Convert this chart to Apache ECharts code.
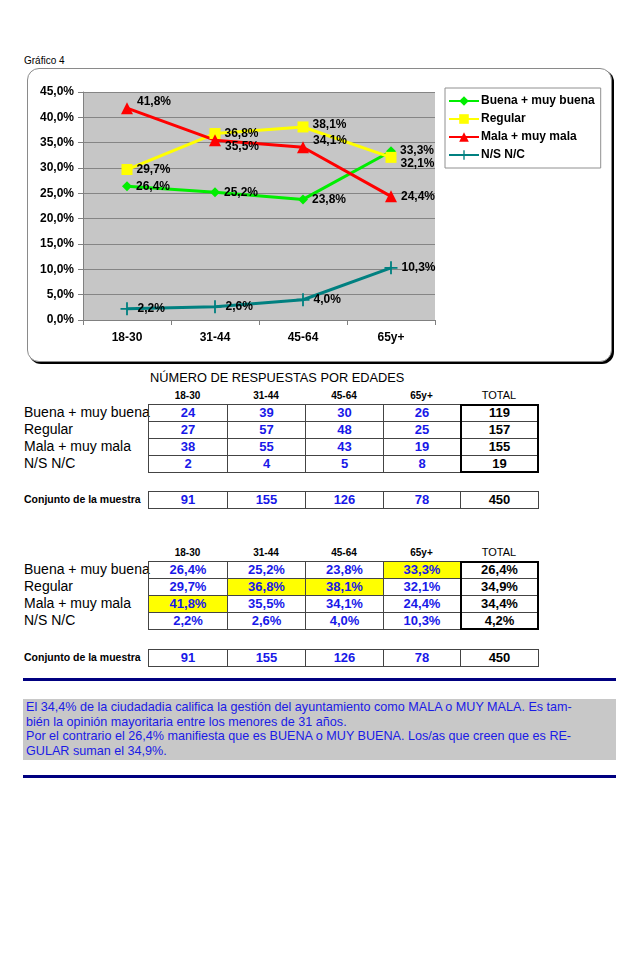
<!DOCTYPE html>
<html>
<head>
<meta charset="utf-8">
<script src="https://cdn.jsdelivr.net/npm/echarts@6/dist/echarts.min.js"></script>
<style>
  html, body { margin: 0; padding: 0; background: #fff; }
  body { width: 640px; height: 980px; position: relative; font-family: "Liberation Sans", Arial, sans-serif; overflow: hidden; }
  .abs { position: absolute; }
  .cell { position: absolute; box-sizing: border-box; border: 1px solid #444; text-align: center; font-weight: bold; font-size: 13px; color: #1818e8; line-height: 15px; }
  .rowlab { position: absolute; left: 24px; font-size: 14px; color: #000; white-space: nowrap; line-height: 17px; }
  .hdr { position: absolute; text-align: center; font-size: 10px; font-weight: bold; color: #000; }
</style>
</head>
<body>
<div class="abs" style="left:24px;top:55px;font-size:10px;color:#000;">Gráfico 4</div>
<div class="abs" style="left:27px;top:68px;width:583px;height:292px;border:1px solid #8a8a8a;border-radius:12px;box-shadow:2px 2px 0 #000;background:#fff;"></div>
<div id="chart" class="abs" style="left:0;top:0;width:640px;height:370px;"></div>
<div id="tables"></div>
<div class="abs" style="left:23px;top:678px;width:593px;height:3px;background:#000080;"></div>
<div class="abs" style="left:23px;top:699px;width:593px;height:61px;background:#c8c8c8;"></div>
<div class="abs" id="note" style="left:26px;top:700px;font-size:12.6px;line-height:14.7px;color:#1a1ae6;white-space:nowrap;"></div>
<div class="abs" style="left:23px;top:775px;width:593px;height:3px;background:#000080;"></div>
<script>
// ---- data ----
const categories = ['18-30', '31-44', '45-64', '65y+'];
const seriesNames = ['Buena + muy buena', 'Regular', 'Mala + muy mala', 'N/S N/C'];
const pctBuena = [26.4, 25.2, 23.8, 33.3];
const pctRegular = [29.7, 36.8, 38.1, 32.1];
const pctMala = [41.8, 35.5, 34.1, 24.4];
const pctNS = [2.2, 2.6, 4.0, 10.3];
const pctTotals = [26.4, 34.9, 34.4, 4.2];
const countBuena = [24, 39, 30, 26];
const countRegular = [27, 57, 48, 25];
const countMala = [38, 55, 43, 19];
const countNS = [2, 4, 5, 8];
const countTotals = [119, 157, 155, 19];
const sampleByAge = [91, 155, 126, 78];
const sampleTotal = 450;
const yTicks = [0, 5, 10, 15, 20, 25, 30, 35, 40, 45];
const tableTitle = 'NÚMERO DE RESPUESTAS POR EDADES';
const sampleLabel = 'Conjunto de la muestra';
const noteLines = [
  'El 34,4% de la ciudadadia califica la gestión del ayuntamiento como MALA o MUY MALA. Es tam-',
  'bién la opinión mayoritaria entre los menores de 31 años.',
  'Por el contrario el 26,4% manifiesta que es BUENA o MUY BUENA. Los/as que creen que es RE-',
  'GULAR suman el 34,9%.'
];

// ---- styles (kept apart from data) ----
const colors = ['#00ee00', '#ffff00', '#ff0000', '#008080'];
const plusPath = 'path://M4.3,0H5.7V4.3H10V5.7H5.7V10H4.3V5.7H0V4.3H4.3Z';
const symbols = ['diamond', 'rect', 'triangle', plusPath];
const symbolSizes = [10, 11, 12, 13];
const labelOffsets = [
  [[0, 0], [0, 0], [0, 0], [0, -1]],
  [[0, 0], [0, 0], [0, -2], [0, 6]],
  [[0, -7], [0, 7], [0, -7], [0, 0]],
  [[0, 0], [0, 0], [0, 0], [0, 0]]
];
const fmt1 = v => v.toFixed(1).replace('.', ',');
const pctSeries = [pctBuena, pctRegular, pctMala, pctNS];

const chart = echarts.init(document.getElementById('chart'), null, { renderer: 'canvas' });
chart.setOption({
  animation: false,
  textStyle: { fontFamily: 'Liberation Sans, Arial, sans-serif' },
  grid: { left: 83, top: 92, width: 352, height: 228, show: true, backgroundColor: '#c6c6c6', borderWidth: 0 },
  legend: {
    orient: 'vertical', left: 445, top: 88, padding: [6, 6, 6, 3], itemGap: 4,
    itemWidth: 30, itemHeight: 12, borderColor: '#909090', borderWidth: 1, backgroundColor: '#fff',
    textStyle: { fontWeight: 'bold', fontSize: 12, color: '#000', lineHeight: 14, padding: [0, 0, 0, -3] },
    data: seriesNames
  },
  xAxis: {
    type: 'category', data: categories, boundaryGap: true,
    axisLine: { lineStyle: { color: '#808080', width: 1 } },
    axisTick: { show: true, length: 5, lineStyle: { color: '#808080' } },
    axisLabel: { fontWeight: 'bold', fontSize: 12, color: '#000', margin: 12 }
  },
  yAxis: {
    type: 'value', min: 0, max: 45, interval: 5,
    axisLine: { show: true, lineStyle: { color: '#808080', width: 1 } },
    axisTick: { show: true, length: 5, lineStyle: { color: '#808080' } },
    splitLine: { lineStyle: { color: '#858585', width: 1 } },
    axisLabel: { fontWeight: 'bold', fontSize: 12, color: '#000', margin: 9, formatter: v => fmt1(v) + '%' }
  },
  series: pctSeries.map((arr, i) => ({
    name: seriesNames[i], type: 'line', color: colors[i],
    symbol: symbols[i], symbolSize: symbolSizes[i], showAllSymbol: true,
    lineStyle: { width: 3, color: colors[i] },
    itemStyle: { color: colors[i] },
    data: arr.map((v, j) => ({ value: v, label: { offset: labelOffsets[i][j] } })),
    label: { show: true, position: 'right', distance: 4, fontWeight: 'bold', fontSize: 12, color: '#000', formatter: p => fmt1(p.value) + '%' },
    z: i === 3 ? 3 : 2
  }))
});

// ---- tables ----
const colEdges = [148, 227, 305, 383, 460, 538];
const rowH = 17;
const host = document.getElementById('tables');
function add(html) { host.insertAdjacentHTML('beforeend', html); }
function cellDiv(x0, x1, y, content, extra) {
  add('<div class="cell" style="left:' + x0 + 'px;top:' + y + 'px;width:' + (x1 - x0 + 1) + 'px;height:' + (rowH + 1) + 'px;' + (extra || '') + '">' + content + '</div>');
}
function buildTable(headerY, top, rows, totals, cellFmt, highlight, sampleTop) {
  categories.forEach((c, j) => {
    add('<div class="hdr" style="left:' + colEdges[j] + 'px;width:' + (colEdges[j + 1] - colEdges[j]) + 'px;top:' + headerY + 'px;">' + c + '</div>');
  });
  add('<div class="hdr" style="left:' + colEdges[4] + 'px;width:' + (colEdges[5] - colEdges[4]) + 'px;top:' + (headerY - 1) + 'px;font-weight:normal;font-size:11px;">TOTAL</div>');
  rows.forEach((row, r) => {
    const y = top + r * rowH;
    add('<div class="rowlab" style="top:' + y + 'px;">' + seriesNames[r] + '</div>');
    row.forEach((v, j) => {
      const hl = highlight && highlight[j] === r;
      cellDiv(colEdges[j], colEdges[j + 1], y, cellFmt(v), hl ? 'background:#ffff00;' : '');
    });
    cellDiv(colEdges[4], colEdges[5], y, cellFmt(totals[r]), 'color:#000;');
  });
  add('<div class="abs" style="box-sizing:border-box;left:' + colEdges[4] + 'px;top:' + top + 'px;width:' + (colEdges[5] - colEdges[4] + 1) + 'px;height:' + (rows.length * rowH + 1) + 'px;border:2px solid #000;"></div>');
  add('<div class="abs" style="left:24px;top:' + (sampleTop + 2) + 'px;font-size:10.5px;font-weight:bold;color:#000;white-space:nowrap;">' + sampleLabel + '</div>');
  sampleByAge.forEach((v, j) => cellDiv(colEdges[j], colEdges[j + 1], sampleTop, v));
  cellDiv(colEdges[4], colEdges[5], sampleTop, sampleTotal, 'color:#000;');
}
add('<div class="abs" style="left:150px;width:250px;top:370px;text-align:center;font-size:12.8px;color:#000;white-space:nowrap;">' + tableTitle + '</div>');
buildTable(390, 404, [countBuena, countRegular, countMala, countNS], countTotals, v => v, null, 491);
const pctRows = [pctBuena, pctRegular, pctMala, pctNS];
const colMaxRow = categories.map((c, j) => {
  let best = 0;
  pctRows.forEach((row, r) => { if (row[j] > pctRows[best][j]) best = r; });
  return best;
});
buildTable(547, 561, pctRows, pctTotals, v => fmt1(v) + '%', colMaxRow, 649);

document.getElementById('note').innerHTML = noteLines.join('<br>');
</script>
</body>
</html>
